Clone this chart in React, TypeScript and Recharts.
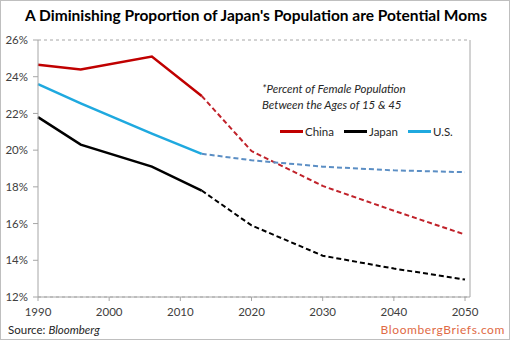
import { LineChart, Line, XAxis, YAxis, CartesianGrid } from 'recharts'

// actual estimates (solid) and projections (dashed), % of female population aged 15-45
const histYears = [1990, 1996, 2006, 2013]
const chinaHist = [24.65, 24.4, 25.1, 22.95]
const japanHist = [21.8, 20.3, 19.1, 17.8]
const usHist = [23.6, 22.55, 20.9, 19.8]

const projYears = [2013, 2020, 2030, 2040, 2050]
const chinaProj = [22.95, 19.95, 18.05, 16.7, 15.4]
const japanProj = [17.8, 15.9, 14.25, 13.55, 12.95]
const usProj = [19.8, 19.45, 19.1, 18.9, 18.8]

const xTicks = [1990, 2000, 2010, 2020, 2030, 2040, 2050]
const yTicks = [12, 14, 16, 18, 20, 22, 24, 26]

const legendItems = [
  { name: 'China', color: '#C00000' },
  { name: 'Japan', color: '#000000' },
  { name: 'U.S.', color: '#1FA9DF' },
]

const hist = histYears.map((year, i) => ({ year, china: chinaHist[i], japan: japanHist[i], us: usHist[i] }))
const proj = projYears.map((year, i) => ({ year, china: chinaProj[i], japan: japanProj[i], us: usProj[i] }))

const font = 'Lato, "Open Sans", sans-serif'
const tickStyle = { fontSize: 11.5, fill: '#404040', fontFamily: font }

export default function App(){
  return (
    <div style={{ position: 'relative', width: 514, height: 341, background: '#fff', fontFamily: font }}>
      <style>{`body{margin:0}`}</style>
      <div style={{ position: 'absolute', left: 0, top: 0, width: 510, height: 340, border: '1px solid #BFBFBF', boxSizing: 'border-box' }} />
      <div style={{ position: 'absolute', left: 0, top: 6, width: 512, textAlign: 'center', fontSize: 15.5, fontWeight: 700, color: '#000' }}>
        A Diminishing Proportion of Japan's Population are Potential Moms
      </div>
      <LineChart width={514} height={341} margin={{ top: 40, right: 0, bottom: 24, left: 0 }}>
        <CartesianGrid vertical={false} stroke="#A6A6A6" strokeDasharray="3 3" />
        <XAxis dataKey="year" type="number" domain={[1990, 2050.7]} ticks={xTicks} allowDuplicatedCategory={false}
          height={20} stroke="#A6A6A6" tickSize={4} tickMargin={7} tick={tickStyle} />
        <YAxis yAxisId="l" domain={[12, 26]} ticks={yTicks} width={38} stroke="#A6A6A6" tickSize={5} tickMargin={5}
          tick={tickStyle} tickFormatter={(v)=> `${v}%`} />
        <YAxis yAxisId="r" orientation="right" domain={[12, 26]} ticks={yTicks} width={44} stroke="#A6A6A6" tickSize={5} tickMargin={5}
          tick={tickStyle} tickFormatter={(v)=> `${v}%`} />
        <Line yAxisId="l" data={hist} dataKey="china" type="linear" stroke="#C00000" strokeWidth={2.5} dot={false} isAnimationActive={false} />
        <Line yAxisId="l" data={hist} dataKey="japan" type="linear" stroke="#000000" strokeWidth={2.5} dot={false} isAnimationActive={false} />
        <Line yAxisId="l" data={hist} dataKey="us" type="linear" stroke="#1FA9DF" strokeWidth={2.5} dot={false} isAnimationActive={false} />
        <Line yAxisId="l" data={proj} dataKey="china" type="linear" stroke="#C0222A" strokeWidth={2} strokeDasharray="5 3" dot={false} isAnimationActive={false} />
        <Line yAxisId="l" data={proj} dataKey="japan" type="linear" stroke="#000000" strokeWidth={2} strokeDasharray="5 3" dot={false} isAnimationActive={false} />
        <Line yAxisId="l" data={proj} dataKey="us" type="linear" stroke="#5B8EC4" strokeWidth={2} strokeDasharray="5 3" dot={false} isAnimationActive={false} />
      </LineChart>
      <div style={{ position: 'absolute', left: 262, top: 81, fontSize: 11.5, fontStyle: 'italic', color: '#262626', lineHeight: '16px' }}>
        *Percent of Female Population<br />Between the Ages of 15 &amp; 45
      </div>
      <div style={{ position: 'absolute', left: 280, top: 125, display: 'flex', alignItems: 'center', fontSize: 11.5, color: '#262626' }}>
        {legendItems.map(it => (
          <div key={it.name} style={{ display: 'flex', alignItems: 'center', marginRight: 10 }}>
            <span style={{ display: 'inline-block', width: 23, height: 3, background: it.color, marginRight: 2 }} />
            {it.name}
          </div>
        ))}
      </div>
      <div style={{ position: 'absolute', left: 8, top: 323, fontSize: 11.5, color: '#262626' }}>
        Source: <i>Bloomberg</i>
      </div>
      <div style={{ position: 'absolute', right: 9, top: 322, fontSize: 12, color: '#E06A45', letterSpacing: 0.6 }}>
        BloombergBriefs.com
      </div>
    </div>
  )
}
